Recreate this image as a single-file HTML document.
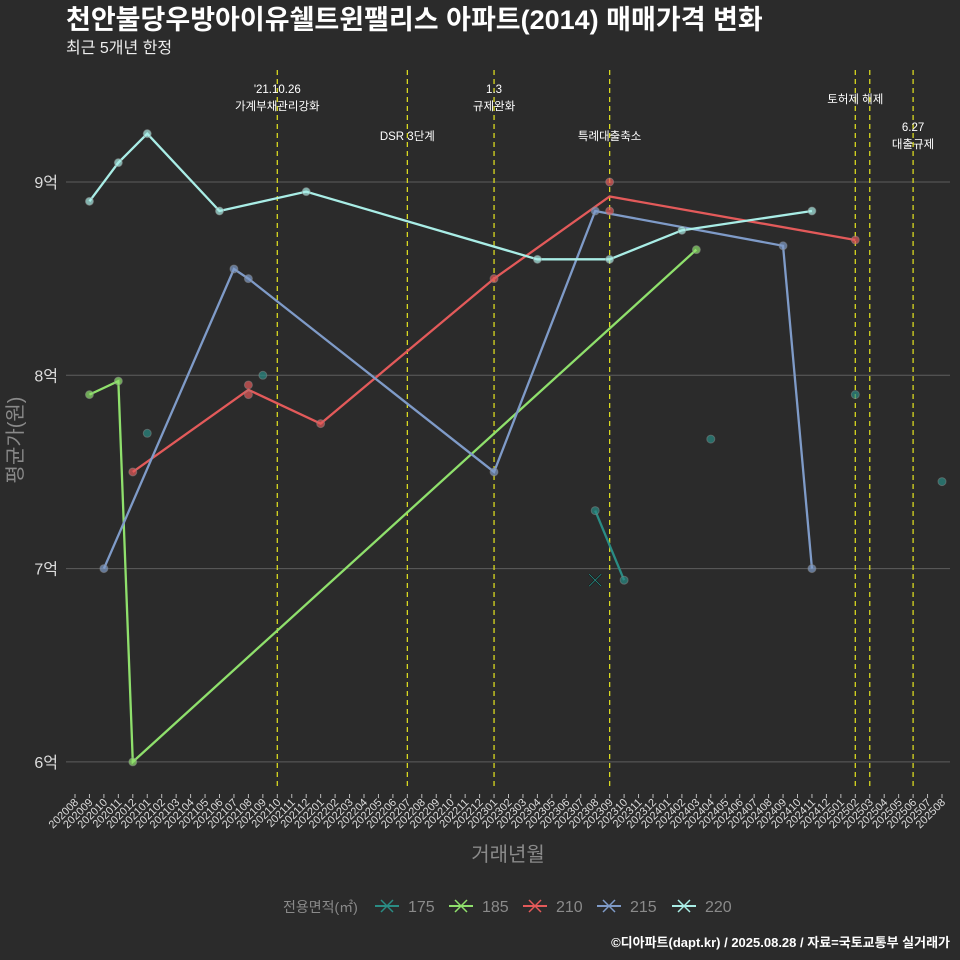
<!DOCTYPE html>
<html><head><meta charset="utf-8"><style>
body{margin:0;background:#2b2b2b;}
svg{display:block;font-family:"Liberation Sans","Noto Sans CJK KR",sans-serif;}
</style></head><body>
<svg id="chart" width="960" height="960" viewBox="0 0 960 960">
<rect width="960" height="960" fill="#2b2b2b"/>
<text x="66" y="29" font-size="27" font-weight="bold" fill="#ffffff">천안불당우방아이유쉘트윈팰리스 아파트(2014) 매매가격 변화</text>
<text x="66" y="53" font-size="16" fill="#eeeeee">최근 5개년 한정</text>
<g id="grid"></g><g id="events"></g><g id="series"></g><g id="xaxis"></g>
<text x="508" y="861" font-size="20" fill="#8a8a8a" text-anchor="middle">거래년월</text>
<text transform="translate(22,440) rotate(-90)" font-size="20" fill="#8a8a8a" text-anchor="middle">평균가(원)</text>
<g id="legend"></g>
<text x="950" y="947" font-size="13" font-weight="bold" fill="#ffffff" text-anchor="end">©디아파트(dapt.kr) / 2025.08.28 / 자료=국토교통부 실거래가</text>
</svg>
<script>
const months=[];for(let y=2020;y<=2025;y++)for(let m=1;m<=12;m++){const k=y*100+m;if(k>=202008&&k<=202508)months.push(String(k));}
const yTicks=[6,7,8,9];
const yTickLabels=["6억","7억","8억","9억"];
const seriesNames=["175","185","210","215","220"];
const seriesColors=["#2a8c84","#8fe06c","#e35a5a","#7f9bc8","#a9ede6"];
const s175Months=["202308","202310"];const s175Values=[7.30,6.94];
const s175Dots=[["202101",7.70],["202109",8.00],["202404",7.67],["202502",7.90],["202508",7.45]];
const s185Months=["202009","202011","202012","202403"];const s185Values=[7.90,7.97,6.00,8.65];
const s210Months=["202012","202108","202201","202301","202309","202502"];const s210Values=[7.50,7.925,7.75,8.50,8.925,8.70];
const s210Dots=[["202108",7.95],["202108",7.90],["202309",9.00],["202309",8.85]];
const s215Months=["202010","202107","202108","202301","202308","202409","202411"];const s215Values=[7.00,8.55,8.50,7.50,8.85,8.67,7.00];
const s220Months=["202009","202011","202101","202106","202112","202304","202309","202402","202411"];const s220Values=[8.90,9.10,9.25,8.85,8.95,8.60,8.60,8.75,8.85];
const eventMonths=["202110","202207","202301","202309","202502","202503","202506"];
const eventLabels=[["'21.10.26","가계부채관리강화"],["DSR 3단계"],["1.3","규제완화"],["특례대출축소"],["토허제 해제"],[],["6.27","대출규제"]];
const eventLabelY=[93,140,93,140,103,0,131];
const NS="http://www.w3.org/2000/svg";
const X=m=>75+14.45*months.indexOf(m);
const Y=v=>182+(9-v)*193.3;
function mk(t,a,p){const e=document.createElementNS(NS,t);for(const k in a)e.setAttribute(k,a[k]);p.appendChild(e);return e;}
const grid=document.getElementById('grid');
yTicks.forEach((v,i)=>{
 const l=mk('line',{x1:66,x2:950,y1:Y(v),y2:Y(v),stroke:'#5e5e5e','stroke-width':1},grid);
 
 
 const t=mk('text',{x:58,y:Y(v)+6,'font-size':16,fill:'#dddddd','text-anchor':'end'},grid);t.textContent=yTickLabels[i];
 
 
});
const ev=document.getElementById('events');
eventMonths.forEach((m,i)=>{
 const l=mk('line',{x1:X(m),x2:X(m),y1:70,y2:790,stroke:'#d8d820','stroke-width':1.3,'stroke-dasharray':'5,4'},ev);
 
 
 eventLabels[i].forEach((s,j)=>{const t=mk('text',{x:X(m),y:eventLabelY[i]+j*17,'font-size':11.5,fill:'#ffffff','text-anchor':'middle'},ev);t.textContent=s;
 
 });
});
const sg=document.getElementById('series');
function line(ms,vs,c,name){
 const p=mk('polyline',{points:ms.map((m,i)=>X(m)+','+Y(vs[i])).join(' '),fill:'none',stroke:c,'stroke-width':2.3},sg);
 
 
}
function dot(m,v,c){const d=mk('circle',{cx:X(m),cy:Y(v),r:4,fill:c,'fill-opacity':0.7,stroke:'#888','stroke-opacity':0.5},sg);
 
 }
line(s175Months,s175Values,seriesColors[0],'175');
line(s185Months,s185Values,seriesColors[1],'185');
line(s210Months,s210Values,seriesColors[2],'210');
line(s215Months,s215Values,seriesColors[3],'215');
line(s220Months,s220Values,seriesColors[4],'220');
s175Months.forEach((m,i)=>dot(m,s175Values[i],seriesColors[0]));
s175Dots.forEach(d=>dot(d[0],d[1],seriesColors[0]));
s185Months.forEach((m,i)=>dot(m,s185Values[i],seriesColors[1]));
s210Months.forEach((m,i)=>{if(m!=="202108"&&m!=="202309")dot(m,s210Values[i],seriesColors[2]);});
s210Dots.forEach(d=>dot(d[0],d[1],seriesColors[2]));
s215Months.forEach((m,i)=>dot(m,s215Values[i],seriesColors[3]));
s220Months.forEach((m,i)=>dot(m,s220Values[i],seriesColors[4]));
const cx=X("202308"),cy=Y(6.94);
const xm=mk('path',{d:`M${cx-6},${cy-6}L${cx+6},${cy+6}M${cx-6},${cy+6}L${cx+6},${cy-6}`,stroke:'#111',"stroke-width":2},sg);


const xm2=mk('path',{d:`M${cx-6},${cy-6}L${cx+6},${cy+6}M${cx-6},${cy+6}L${cx+6},${cy-6}`,stroke:'#2a8c84',"stroke-width":0.8},sg);


const xa=document.getElementById('xaxis');
months.forEach(m=>{
 mk('line',{x1:X(m),x2:X(m),y1:794,y2:798,stroke:'#bbbbbb'},xa);
 const t=mk('text',{transform:`translate(${X(m)+4},803) rotate(-45)`,'font-size':11,fill:'#dddddd','text-anchor':'end'},xa);t.textContent=m;
 
 
});
const lg=document.getElementById('legend');
const lt=mk('text',{x:283,y:912,'font-size':14,fill:'#8a8a8a'},lg);lt.textContent='전용면적(㎡)';


const lx=[375,449,523,597,672];
seriesNames.forEach((n,i)=>{
 const g=mk('g',{},lg);
 
 
 const x=lx[i];
 mk('line',{x1:x,x2:x+24,y1:906,y2:906,stroke:seriesColors[i],'stroke-width':2},g);
 mk('path',{d:`M${x+6},900L${x+18},912M${x+6},912L${x+18},900`,stroke:seriesColors[i],'stroke-width':1.5},g);
 const t=mk('text',{x:x+33,y:912,'font-size':16,fill:'#8a8a8a'},g);t.textContent=n;
});
</script>
</body></html>
